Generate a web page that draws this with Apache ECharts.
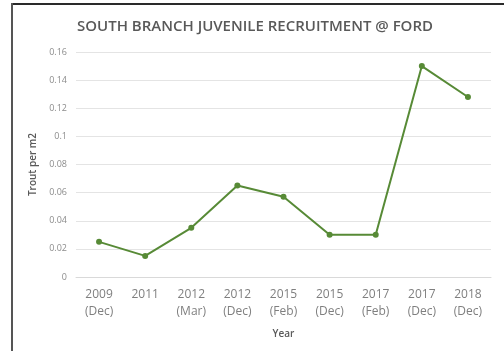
<!DOCTYPE html>
<html>
<head>
<meta charset="utf-8">
<script src="https://cdn.jsdelivr.net/npm/echarts@6/dist/echarts.min.js"></script>
<style>
  html, body { margin: 0; padding: 0; background: #fff; }
  #chart { width: 504px; height: 351px; }
</style>
</head>
<body>
<div id="chart"></div>
<script>
// Survey dates (year + month) and juvenile trout density per square metre
const years = ['2009', '2011', '2012', '2012', '2015', '2015', '2017', '2017', '2018'];
const months = ['Dec', '', 'Mar', 'Dec', 'Feb', 'Dec', 'Feb', 'Dec', 'Dec'];
const troutPerM2 = [0.025, 0.015, 0.035, 0.065, 0.057, 0.03, 0.03, 0.15, 0.128];
const yTicks = [0, 0.02, 0.04, 0.06, 0.08, 0.1, 0.12, 0.14, 0.16];

const categories = years.map((y, i) => months[i] ? y + '\n(' + months[i] + ')' : y + '\n');

const chart = echarts.init(document.getElementById('chart'), null, { renderer: 'canvas' });
const font = '"Open Sans", "Liberation Sans", sans-serif';

chart.setOption({
  backgroundColor: '#ffffff',
  animation: false,
  title: {
    text: 'SOUTH BRANCH JUVENILE RECRUITMENT @ FORD',
    left: 250,
    top: 14,
    textAlign: 'center',
    textStyle: { fontFamily: font, fontSize: 15, fontWeight: 600, color: '#595959' }
  },
  grid: { left: 76, right: 13, top: 52, bottom: 74, containLabel: false },
  xAxis: {
    type: 'category',
    data: categories,
    boundaryGap: true,
    name: 'Year',
    nameLocation: 'middle',
    nameGap: 52,
    nameTextStyle: { fontFamily: font, fontSize: 10, fontWeight: 600, color: '#595959' },
    axisTick: { show: false },
    axisLine: { lineStyle: { color: '#d9d9d9', width: 1 } },
    axisLabel: {
      interval: 0,
      margin: 9,
      fontFamily: font,
      fontSize: 12,
      lineHeight: 17,
      color: '#7f7f7f'
    }
  },
  yAxis: {
    type: 'value',
    min: yTicks[0],
    max: yTicks[yTicks.length - 1],
    interval: 0.02,
    name: 'Trout per m2',
    nameLocation: 'middle',
    nameRotate: 90,
    nameGap: 38,
    nameTextStyle: { fontFamily: font, fontSize: 10, fontWeight: 600, color: '#595959' },
    axisLine: { show: false },
    axisTick: { show: false },
    axisLabel: {
      margin: 9,
      fontFamily: font,
      fontSize: 9,
      color: '#8c8c8c',
      formatter: v => String(+v.toFixed(2))
    },
    splitLine: { lineStyle: { color: '#e4e4e4', width: 1 } }
  },
  series: [{
    type: 'line',
    data: troutPerM2,
    symbol: 'circle',
    symbolSize: 6,
    lineStyle: { color: '#578a36', width: 2 },
    itemStyle: { color: '#578a36' }
  }],
  graphic: [
    // frame edges along the top and left
    { type: 'rect', shape: { x: 11, y: 3, width: 493, height: 2 }, style: { fill: '#2a2a2a' } },
    { type: 'rect', shape: { x: 11, y: 3, width: 2, height: 348 }, style: { fill: '#555555' } }
  ]
});
</script>
</body>
</html>
